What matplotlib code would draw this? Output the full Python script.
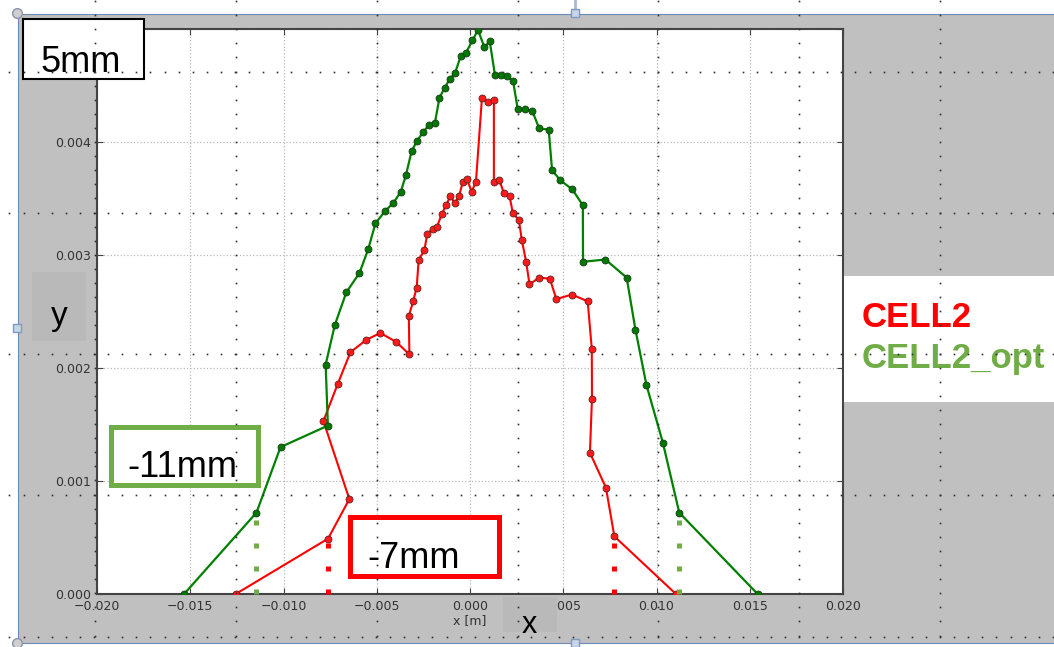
import numpy as np
import matplotlib
matplotlib.use('Agg')
import matplotlib.pyplot as plt
from matplotlib.patches import Rectangle
from matplotlib.lines import Line2D
from matplotlib.transforms import Affine2D
from matplotlib.ticker import FuncFormatter

# ---------------- data ----------------
cell2_x = [-0.01256, -0.00761, -0.00647, -0.00786, -0.00709, -0.00641, -0.00555, -0.00481,
           -0.00395, -0.00325, -0.00328, -0.00305, -0.00286, -0.00275, -0.00245, -0.00229,
           -0.00200, -0.00177, -0.00152, -0.00129, -0.00105, -0.00082, -0.00059, -0.00038,
           -0.00016, 0.00009, 0.00032, 0.00064, 0.00095, 0.00128, 0.00128, 0.00158,
           0.00181, 0.00212, 0.00230, 0.00262, 0.00278, 0.00301, 0.00319, 0.00371,
           0.00428, 0.00463, 0.00547, 0.00631, 0.00653, 0.00654, 0.00643, 0.00729,
           0.00774, 0.01104]
cell2_y = [0.0, 0.00049, 0.00084, 0.00153, 0.00186, 0.00214, 0.00225, 0.00231,
           0.00223, 0.00212, 0.00246, 0.00259, 0.00271, 0.00296, 0.00304, 0.00319,
           0.00323, 0.00325, 0.00336, 0.00344, 0.00352, 0.00346, 0.00352, 0.00365,
           0.00367, 0.00356, 0.00365, 0.00439, 0.00435, 0.00437, 0.00365, 0.00366,
           0.00355, 0.00352, 0.00337, 0.00331, 0.00313, 0.00294, 0.00274, 0.00280,
           0.00279, 0.00261, 0.00265, 0.00259, 0.00217, 0.00173, 0.00125, 0.00094,
           0.00051, 0.0]

opt_x = [-0.01533, -0.01145, -0.01016, -0.00762, -0.00774, -0.00725, -0.00663, -0.00593,
         -0.00546, -0.00507, -0.00455, -0.00411, -0.00371, -0.00343, -0.00313, -0.00284,
         -0.00250, -0.00220, -0.00188, -0.00164, -0.00136, -0.00107, -0.00080, -0.00050,
         -0.00021, 0.00013, 0.00043, 0.00077, 0.00106, 0.00134, 0.00165, 0.00199,
         0.00231, 0.00256, 0.00296, 0.00335, 0.00371, 0.00422, 0.00440, 0.00485,
         0.00549, 0.00605, 0.00606, 0.00726, 0.00840, 0.00887, 0.00946, 0.01034,
         0.01122, 0.01542]
opt_y = [0.0, 0.00072, 0.00130, 0.00149, 0.00203, 0.00238, 0.00267, 0.00284,
         0.00305, 0.00328, 0.00339, 0.00346, 0.00356, 0.00371, 0.00392, 0.00401,
         0.00409, 0.00415, 0.00417, 0.00439, 0.00448, 0.00456, 0.00461, 0.00476,
         0.00479, 0.00490, 0.00499, 0.00484, 0.00489, 0.00459, 0.00459, 0.00458,
         0.00454, 0.00429, 0.00429, 0.00427, 0.00412, 0.00411, 0.00375, 0.00366,
         0.00358, 0.00344, 0.00294, 0.00296, 0.00280, 0.00234, 0.00185, 0.00134,
         0.00072, 0.0]

drop_x = [-0.01145, -0.00761, 0.00774, 0.01122]
drop_top = [0.00068, 0.00045, 0.00045, 0.00066]
drop_series = ['opt', 'cell2', 'cell2', 'opt']

x_ticks = [-0.020, -0.015, -0.010, -0.005, 0.000, 0.005, 0.010, 0.015, 0.020]
y_ticks = [0.000, 0.001, 0.002, 0.003, 0.004, 0.005]

legend_labels = ['CELL2', 'CELL2_opt']
box_labels = ['5mm', '-11mm', '-7mm']

# ---------------- style ----------------
RED = '#ff0000'
DKGREEN = '#008000'
LTGREEN = '#70ad47'
GREY = '#c0c0c0'
ANN_FONT = ['Liberation Sans', 'DejaVu Sans']

W, H = 1054, 647
fig = plt.figure(figsize=(W / 100, H / 100), dpi=100)
fig.patch.set_facecolor('white')
PX = Affine2D().scale(1 / W, -1 / H).translate(0, 1) + fig.transFigure


def rect(x0, y0, x1, y1, **kw):
    r = Rectangle((x0, y0), x1 - x0, y1 - y0, transform=PX, **kw)
    fig.add_artist(r)
    return r


# slide / selection background
rect(17.5, 13.5, 1070, 643, fc=GREY, ec='#6d8ab5', lw=0.8, zorder=-2)

# axes
ax = fig.add_axes([97 / W, 1 - 594 / H, 746 / W, 565 / H])
ax.set_zorder(0)
ax.set_facecolor('white')
ax.set_xlim(-0.02, 0.02)
ax.set_ylim(0, 0.005)
ax.set_xticks(x_ticks)
ax.set_yticks(y_ticks)


def fmt(v, pos):
    if abs(v) < 1e-12:
        v = 0.0
    return f'{v:.3f}'.replace('-', '\u2212')


ax.xaxis.set_major_formatter(FuncFormatter(fmt))
ax.yaxis.set_major_formatter(FuncFormatter(fmt))
ax.tick_params(direction='in', top=True, right=True, length=4, width=0.8,
               color='#444444', labelsize=9, labelcolor='#333333', pad=4)
for s in ax.spines.values():
    s.set_color('#444444')
    s.set_linewidth(1.5)
ax.grid(True, color='#b8b8b8', linestyle=':', linewidth=0.9)
ax.set_axisbelow(True)
ax.set_xlabel('x [m]', fontsize=9, color='#333333', labelpad=1)

ax.plot(cell2_x, cell2_y, '-o', color=RED, lw=1.5, ms=5, mfc='#ff1a1a',
        mec='#602020', mew=0.6, zorder=3, label=legend_labels[0])
ax.plot(opt_x, opt_y, '-o', color=DKGREEN, lw=1.6, ms=5, mfc='#007800',
        mec='#1a3d1a', mew=0.6, zorder=3, label=legend_labels[1])

for xv, tv, sname in zip(drop_x, drop_top, drop_series):
    c = RED if sname == 'cell2' else LTGREEN
    ax.plot([xv, xv], [0, tv], color=c, lw=3.6, linestyle=(0, (1, 3.6)),
            dash_capstyle='butt', clip_on=False, zorder=4)

# darker label patches
rect(32, 272, 86, 341, fc='#b9b9b9', ec='none', zorder=2)
rect(503, 597, 557, 632, fc='#b9b9b9', ec='none', zorder=2)
fig.text(59, 325, 'y', transform=PX, fontsize=24, family=ANN_FONT,
         ha='center', va='baseline', color='black', zorder=3)
fig.text(529, 633, 'x', transform=PX, fontsize=22, family=ANN_FONT,
         ha='center', va='baseline', color='black', zorder=3)

# legend box
rect(843.5, 275.5, 1060, 402, fc='white', ec='none', zorder=2)
fig.text(862, 327, legend_labels[0], transform=PX, fontsize=25, family=ANN_FONT,
         fontweight='bold', color=RED, ha='left', va='baseline', zorder=3)
fig.text(862, 368, legend_labels[1], transform=PX, fontsize=25, family=ANN_FONT,
         fontweight='bold', color=LTGREEN, ha='left', va='baseline', zorder=3)

# annotation boxes
rect(23, 19, 144, 79, fc='white', ec='black', lw=1.5, zorder=5)
fig.text(40, 72, box_labels[0], transform=PX, fontsize=26, family=ANN_FONT,
         ha='left', va='baseline', color='black', zorder=6)
rect(110.5, 426.5, 257.5, 484.5, fc='white', ec=LTGREEN, lw=3.6, zorder=5)
fig.text(127, 477, box_labels[1], transform=PX, fontsize=26, family=ANN_FONT,
         ha='left', va='baseline', color='black', zorder=6)
rect(349.5, 516.5, 498.5, 575.5, fc='white', ec=RED, lw=3.6, zorder=5)
fig.text(367, 568, box_labels[2], transform=PX, fontsize=26, family=ANN_FONT,
         ha='left', va='baseline', color='black', zorder=6)

# selection handles
fig.add_artist(Line2D([575, 575], [0, 10], transform=PX, color='#a9bad3', lw=2, zorder=7))
fig.add_artist(Line2D([17, 17], [13, 643], transform=PX, linestyle='none', marker='o',
                      ms=7, mfc='#cfcfcf', mec='#8a95a8', mew=1, zorder=7))
fig.add_artist(Line2D([575, 17, 575], [13, 328, 643], transform=PX, linestyle='none',
                      marker='s', ms=6, mfc='#c9d5e8', mec='#7f9ac0', mew=1, zorder=7))

# slide grid guide dots
guide_x = 940 - 140.8 * np.arange(7)
guide_y = 71.5 + 141.3 * np.arange(5)
step = 14.1
for gx in guide_x:
    ys = 71.5 + step * np.arange(-6, 42)
    fig.add_artist(Line2D(np.full_like(ys, gx), ys, transform=PX, linestyle='none',
                          marker='s', ms=1.2, mfc='#303030', mec='none', zorder=10))
for gy in guide_y:
    xs = 940 - step * np.arange(-10, 68)
    fig.add_artist(Line2D(xs, np.full_like(xs, gy), transform=PX, linestyle='none',
                          marker='s', ms=1.2, mfc='#303030', mec='none', zorder=10))

fig.savefig('out.png', dpi=100, facecolor='white')
